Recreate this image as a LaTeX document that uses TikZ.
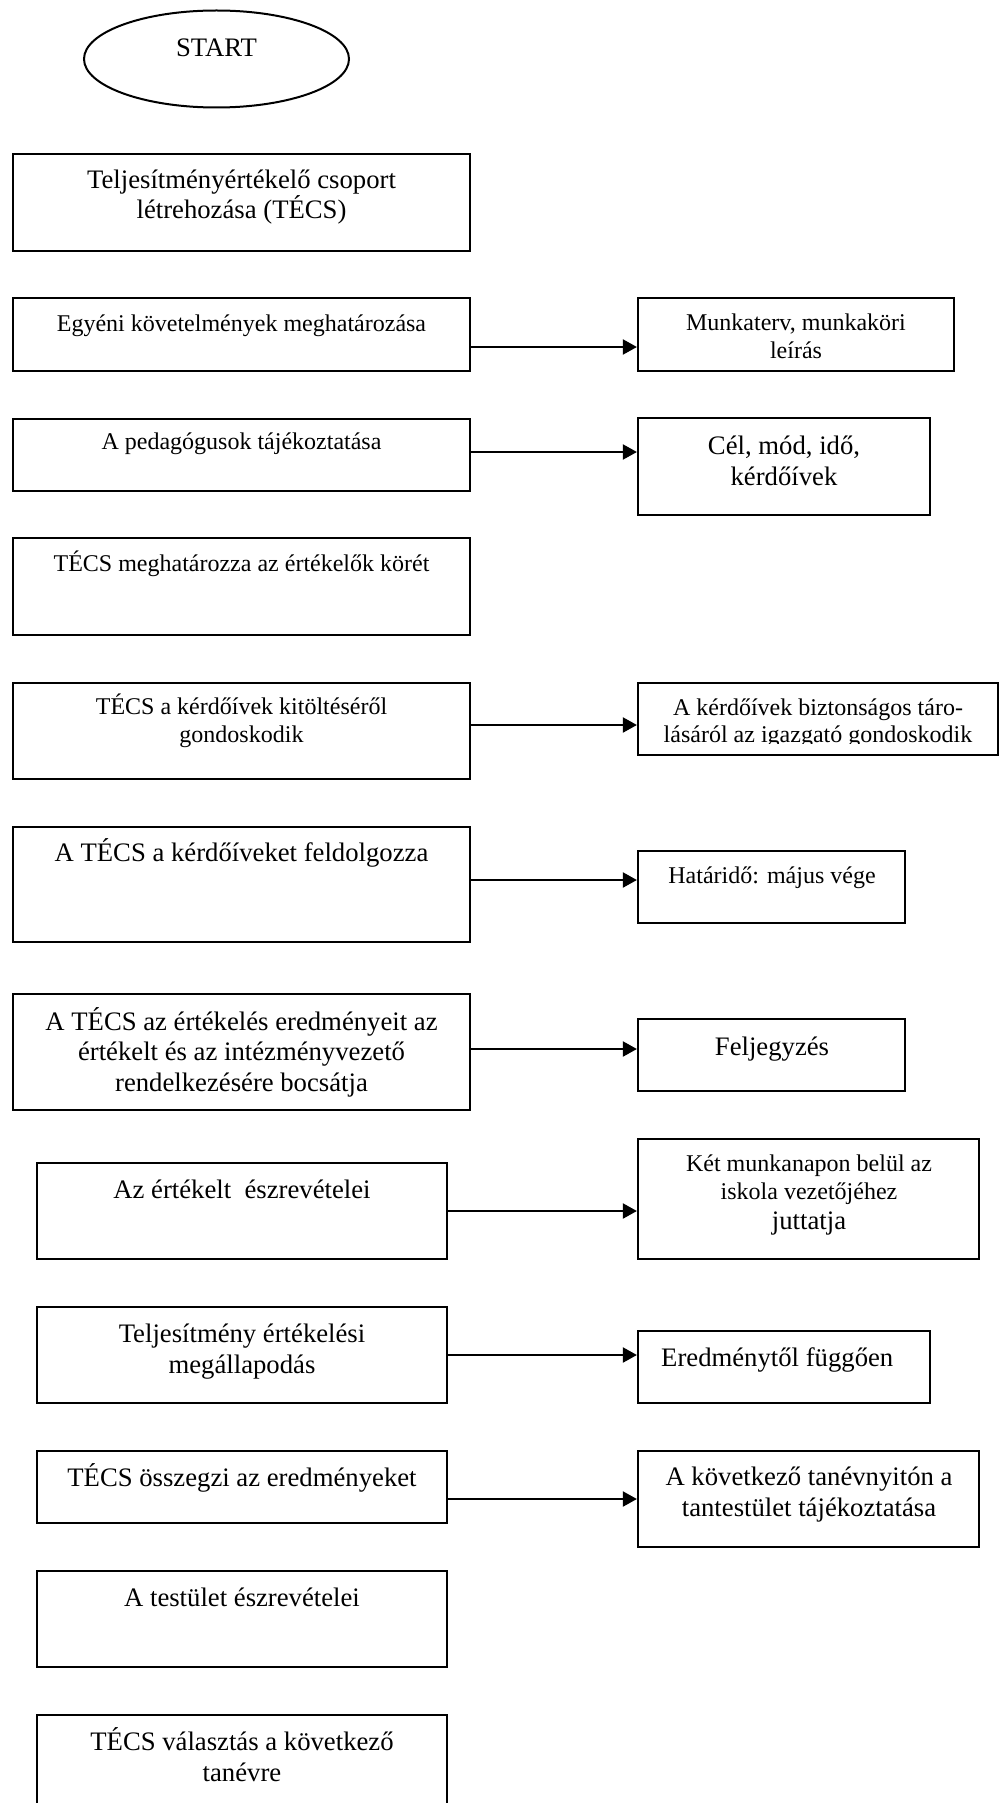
\documentclass[tikz,border=0pt]{standalone}
\usepackage{fontspec}
\setmainfont{Liberation Serif}
\usetikzlibrary{arrows.meta,fit,shapes.geometric}
\begin{document}
% multi-line labels are placed by the baseline of their last line
\begin{tikzpicture}[x=1pt,y=-1pt,
  box/.style={draw, line width=2.2pt, inner sep=0pt},
  big/.style={font=\fontsize{26.7}{30.5}\selectfont, align=center, anchor=base, inner sep=0pt},
  small/.style={font=\fontsize{24}{28}\selectfont, align=center, anchor=base, inner sep=0pt},
  flow/.style={line width=2pt, -{Triangle[length=14pt,width=15pt]}}]
\useasboundingbox (0,0) rectangle (1003,1803);
\clip (0,0) rectangle (1003,1803);

% start terminal
\node[draw, ellipse, line width=2pt, minimum width=265pt, minimum height=97pt, inner sep=0pt] (start) at (216.5,59) {};
\node[big] (tstart) at (216.5,57) {START};

% left column: process steps
\node[box, fit={(13,154) (470,251)}] (b1) {};
\node[big] (t1) at (241.5,219) {Teljesítményértékelő csoport\\létrehozása (TÉCS)};

\node[box, fit={(13,298) (470,371)}] (b2) {};
\node[small] (t2) at (241.5,331) {Egyéni követelmények meghatározása};

\node[box, fit={(13,419) (470,491)}] (b3) {};
\node[small] (t3) at (241.5,449) {A pedagógusok tájékoztatása};

\node[box, fit={(13,538) (470,635)}] (b4) {};
\node[small] (t4) at (241.5,571) {TÉCS meghatározza az értékelők körét};

\node[box, fit={(13,683) (470,779)}] (b5) {};
\node[small] (t5) at (241.5,742) {TÉCS a kérdőívek kitöltéséről\\gondoskodik};

\node[box, fit={(13,827) (470,942)}] (b6) {};
\node[big] (t6) at (241.5,861) {A TÉCS a kérdőíveket feldolgozza};

\node[box, fit={(13,994) (470,1110)}] (b7) {};
\node[big] (t7) at (241.5,1091) {A TÉCS az értékelés eredményeit az\\értékelt és az intézményvezető\\rendelkezésére bocsátja};

\node[box, fit={(37,1163) (447,1259)}] (b8) {};
\node[big] (t8) at (242,1198) {Az értékelt~ észrevételei};

\node[box, fit={(37,1307) (447,1403)}] (b9) {};
\node[big] (t9) at (242,1373) {Teljesítmény értékelési\\megállapodás};

\node[box, fit={(37,1451) (447,1523)}] (b10) {};
\node[big] (t10) at (242,1486) {TÉCS összegzi az eredményeket};

\node[box, fit={(37,1571) (447,1667)}] (b11) {};
\node[big] (t11) at (242,1606) {A testület észrevételei};

\node[box, fit={(37,1715) (447,1840)}] (b12) {};
\node[big] (t12) at (242,1781) {TÉCS választás a következő\\tanévre};

% right column: notes
\node[box, fit={(638,298) (954,371)}] (r2) {};
\node[small] (s2) at (796,358) {Munkaterv, munkaköri\\leírás};

\node[box, fit={(638,418) (930,515)}] (r3) {};
\node[big] (s3) at (784,485) {Cél, mód, idő,\\kérdőívek};

\node[box, fit={(638,683) (998,755)}] (r5) {};
\begin{scope}
  \clip (638,683) rectangle (998,743.5);
  \node[small, font=\fontsize{24}{27}\selectfont] (s5) at (818,742) {A kérdőívek biztonságos táro-\\lásáról az igazgató gondoskodik};
\end{scope}

\node[box, fit={(638,851) (905,923)}] (r6) {};
\node[small] (s6) at (772,883) {Határidő: május vége};

\node[box, fit={(638,1019) (905,1091)}] (r7) {};
\node[big] (s7) at (772,1055) {Feljegyzés};

\node[box, fit={(638,1139) (979,1259)}] (r8) {};
\node[small] (s8) at (809,1199) {Két munkanapon belül az\\iskola vezetőjéhez};
\node[big] (s8b) at (809,1229) {juttatja};

\node[box, fit={(638,1331) (930,1403)}] (r9) {};
\node[big, anchor=base west] (s9) at (661,1366) {Eredménytől függően};

\node[box, fit={(638,1451) (979,1547)}] (r10) {};
\node[big] (s10) at (809,1516) {A következő tanévnyitón a\\tantestület tájékoztatása};

% connectors
\draw[flow] (b2.east |- 0,347) -- (r2.west |- 0,347);
\draw[flow] (b3.east |- 0,452) -- (r3.west |- 0,452);
\draw[flow] (b5.east |- 0,725) -- (r5.west |- 0,725);
\draw[flow] (b6.east |- 0,880) -- (r6.west |- 0,880);
\draw[flow] (b7.east |- 0,1049) -- (r7.west |- 0,1049);
\draw[flow] (b8.east |- 0,1211) -- (r8.west |- 0,1211);
\draw[flow] (b9.east |- 0,1355) -- (r9.west |- 0,1355);
\draw[flow] (b10.east |- 0,1499) -- (r10.west |- 0,1499);
\end{tikzpicture}
\end{document}
